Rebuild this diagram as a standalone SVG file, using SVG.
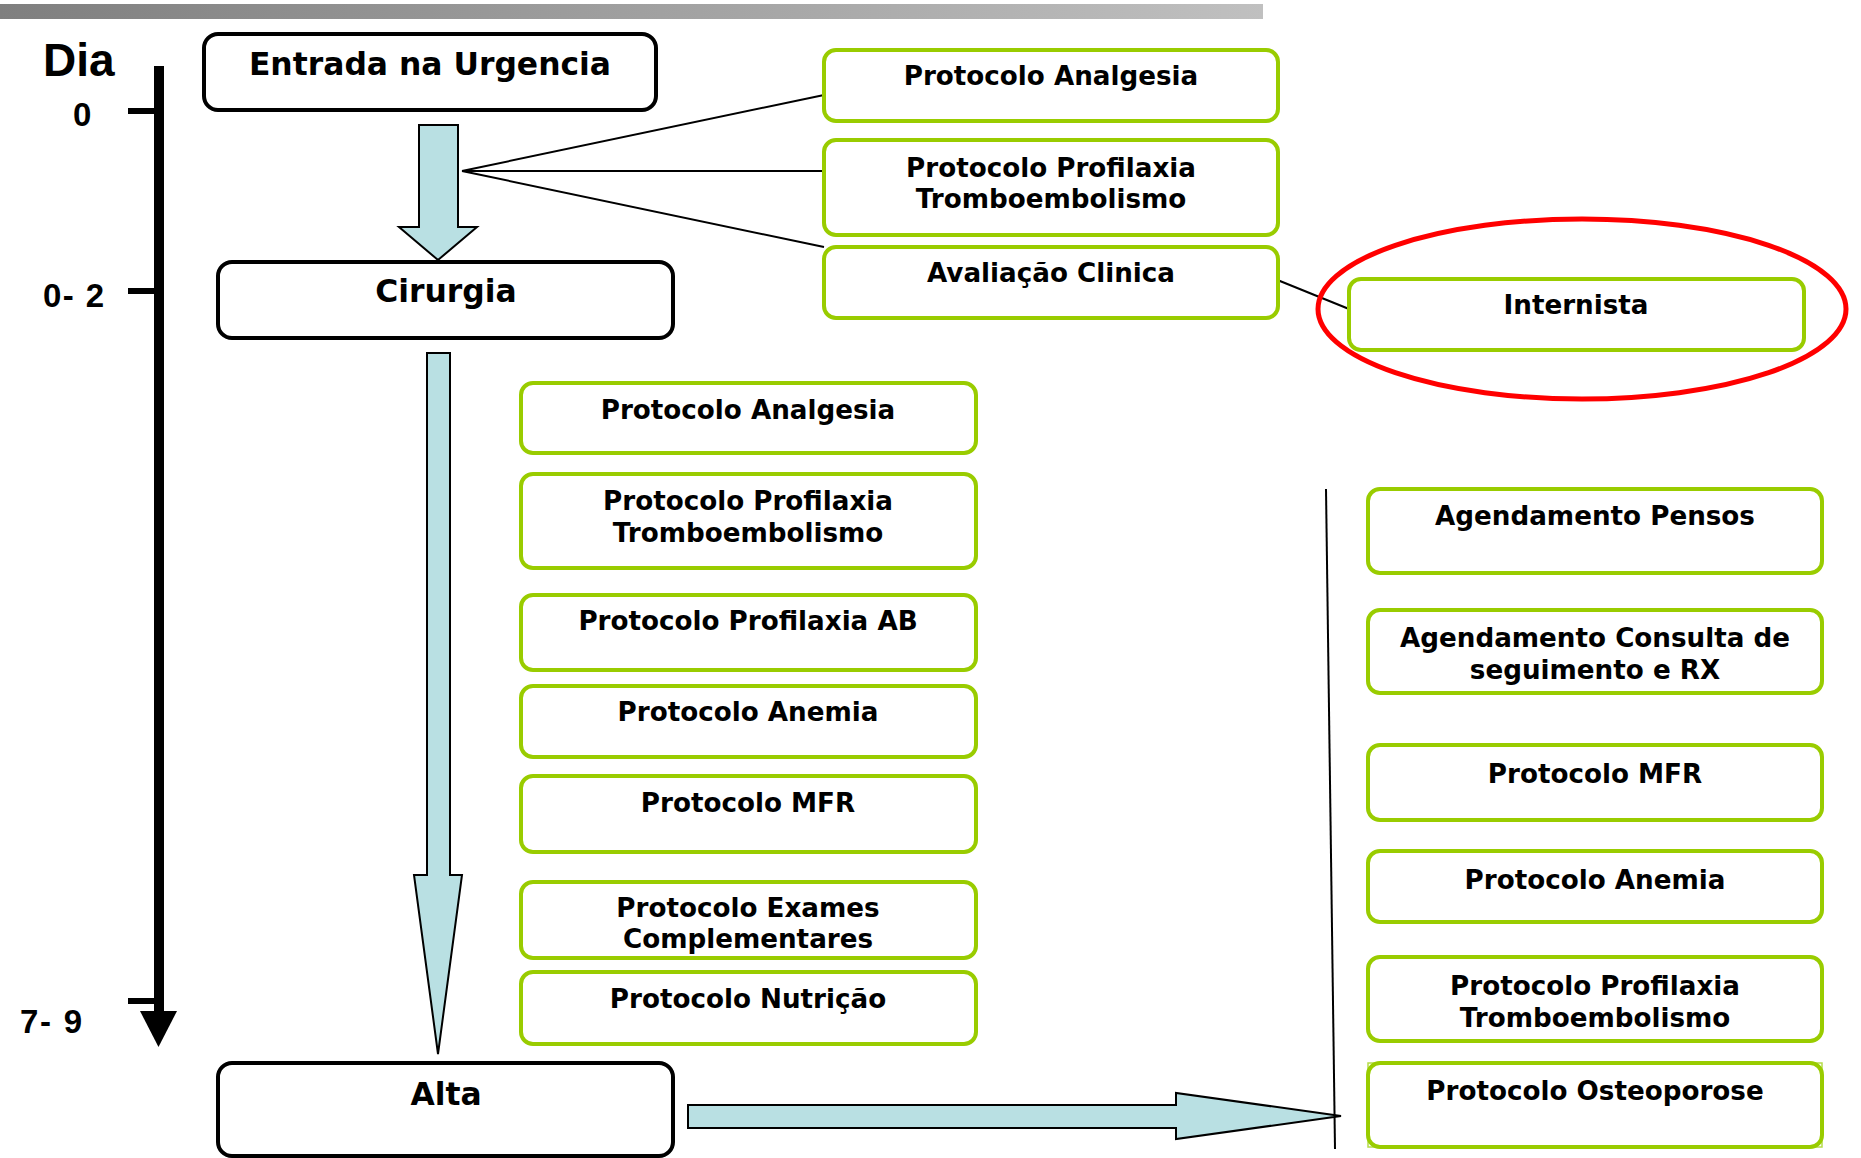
<svg xmlns="http://www.w3.org/2000/svg" width="1861" height="1158" viewBox="0 0 1861 1158">
<defs>
<linearGradient id="bar" x1="0" y1="0" x2="1" y2="0">
<stop offset="0" stop-color="#7f7f7f"/>
<stop offset="1" stop-color="#c0c0c0"/>
</linearGradient>
<style>
.main{fill:#fff;stroke:#000;stroke-width:4}
.g{fill:#fff;stroke:#99cc00;stroke-width:4}
.mt{font-family:"DejaVu Sans",Verdana,sans-serif;font-weight:bold;font-size:31.4px;text-anchor:middle;fill:#000}
.gt{font-family:"DejaVu Sans",Verdana,sans-serif;font-weight:bold;font-size:26.2px;text-anchor:middle;fill:#000}
.day{font-family:"Liberation Sans",Arial,sans-serif;font-weight:bold;font-size:33px;fill:#000}
.arr{fill:#b9e0e3;stroke:#000;stroke-width:2;stroke-linejoin:miter}
.ln{stroke:#000;stroke-width:2;fill:none}
</style>
</defs>
<rect x="0" y="4" width="1263" height="15" fill="url(#bar)"/>

<g id="timeline">
<text x="43" y="76" font-family="Liberation Sans,Arial,sans-serif" font-weight="bold" font-size="46">Dia</text>
<rect x="154" y="66" width="10" height="950" fill="#000"/>
<polygon points="140,1011 177,1011 158.5,1047" fill="#000"/>
<rect x="128" y="108" width="30" height="6" fill="#000"/>
<rect x="128" y="288" width="30" height="6" fill="#000"/>
<rect x="128" y="998" width="30" height="6" fill="#000"/>
<text class="day" x="73" y="126">0</text>
<text class="day" x="43" y="307" textLength="61" lengthAdjust="spacing">0- 2</text>
<text class="day" x="20" y="1033" textLength="62" lengthAdjust="spacing">7- 9</text>
</g>

<g id="connectors">
<polygon class="arr" points="419,125 458,125 458,227 477,227 438,260 399,227 419,227"/>
<polygon class="arr" points="427,353 450,353 450,875 462,875 438,1054 414,875 427,875"/>
<polygon class="arr" points="688,1105 1176,1105 1176,1093 1341,1116 1176,1139 1176,1128 688,1128"/>
<line class="ln" x1="462" y1="171" x2="824" y2="95"/>
<line class="ln" x1="462" y1="171" x2="824" y2="171"/>
<line class="ln" x1="462" y1="171" x2="824" y2="247"/>
<line class="ln" x1="1275" y1="279" x2="1349" y2="309"/>
<line class="ln" x1="1326" y1="489" x2="1335" y2="1149"/>
</g>

<g id="n-entrada"><rect class="main" x="204" y="34" width="452" height="76" rx="14"/><text class="mt" x="430" y="75">Entrada na Urgencia</text></g>
<g id="n-cirurgia"><rect class="main" x="218" y="262" width="455" height="76" rx="14"/><text class="mt" x="446" y="302">Cirurgia</text></g>
<g id="n-alta"><rect class="main" x="218" y="1063" width="455" height="93" rx="14"/><text class="mt" x="446" y="1105">Alta</text></g>

<g id="n-top-analgesia"><rect class="g" x="824" y="50" width="454" height="71" rx="12"/><text class="gt" x="1051" y="85">Protocolo Analgesia</text></g>
<g id="n-top-profilaxia"><rect class="g" x="824" y="140" width="454" height="95" rx="12"/><text class="gt" x="1051" y="177">Protocolo Profilaxia</text><text class="gt" x="1051" y="208">Tromboembolismo</text></g>
<g id="n-avaliacao"><rect class="g" x="824" y="247" width="454" height="71" rx="12"/><text class="gt" x="1051" y="282">Avaliação Clinica</text></g>
<g id="n-internista"><rect class="g" x="1349" y="279" width="455" height="71" rx="12"/><text class="gt" x="1576" y="314">Internista</text><ellipse cx="1582" cy="309" rx="264" ry="90" fill="none" stroke="#ff0000" stroke-width="5"/></g>

<g id="n-mid-analgesia"><rect class="g" x="521" y="383" width="455" height="70" rx="12"/><text class="gt" x="748" y="419">Protocolo Analgesia</text></g>
<g id="n-mid-profilaxia"><rect class="g" x="521" y="474" width="455" height="94" rx="12"/><text class="gt" x="748" y="510">Protocolo Profilaxia</text><text class="gt" x="748" y="542">Tromboembolismo</text></g>
<g id="n-mid-ab"><rect class="g" x="521" y="595" width="455" height="75" rx="12"/><text class="gt" x="748" y="630">Protocolo Profilaxia AB</text></g>
<g id="n-mid-anemia"><rect class="g" x="521" y="686" width="455" height="71" rx="12"/><text class="gt" x="748" y="721">Protocolo Anemia</text></g>
<g id="n-mid-mfr"><rect class="g" x="521" y="776" width="455" height="76" rx="12"/><text class="gt" x="748" y="812">Protocolo MFR</text></g>
<g id="n-mid-exames"><rect class="g" x="521" y="882" width="455" height="76" rx="12"/><text class="gt" x="748" y="917">Protocolo Exames</text><text class="gt" x="748" y="948">Complementares</text></g>
<g id="n-mid-nutricao"><rect class="g" x="521" y="972" width="455" height="72" rx="12"/><text class="gt" x="748" y="1008">Protocolo Nutrição</text></g>

<g id="n-r-pensos"><rect class="g" x="1368" y="489" width="454" height="84" rx="12"/><text class="gt" x="1595" y="525">Agendamento Pensos</text></g>
<g id="n-r-consulta"><rect class="g" x="1368" y="610" width="454" height="83" rx="12"/><text class="gt" x="1595" y="647">Agendamento Consulta de</text><text class="gt" x="1595" y="679">seguimento e RX</text></g>
<g id="n-r-mfr"><rect class="g" x="1368" y="745" width="454" height="75" rx="12"/><text class="gt" x="1595" y="783">Protocolo MFR</text></g>
<g id="n-r-anemia"><rect class="g" x="1368" y="851" width="454" height="71" rx="12"/><text class="gt" x="1595" y="889">Protocolo Anemia</text></g>
<g id="n-r-profilaxia"><rect class="g" x="1368" y="957" width="454" height="84" rx="12"/><text class="gt" x="1595" y="995">Protocolo Profilaxia</text><text class="gt" x="1595" y="1027">Tromboembolismo</text></g>
<g id="n-r-osteoporose"><rect x="1368" y="1063" width="454" height="84" fill="none" stroke="#b5dc4a" stroke-width="1.5"/><rect class="g" x="1368" y="1063" width="454" height="84" rx="12"/><text class="gt" x="1595" y="1100">Protocolo Osteoporose</text></g>
</svg>
